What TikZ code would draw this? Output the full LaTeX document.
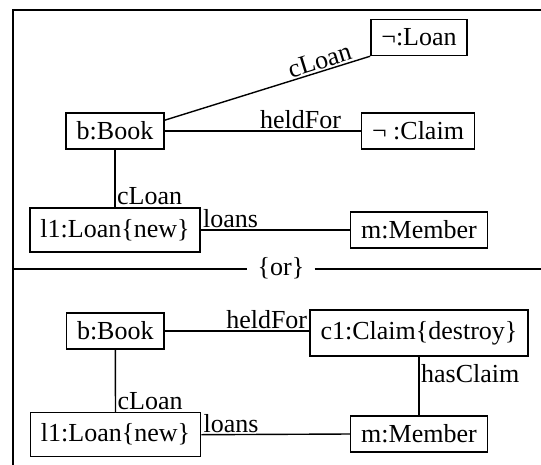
\documentclass[tikz,border=0pt]{standalone}
\usepackage{fontspec}
\setmainfont{Liberation Serif}
\begin{document}
\begin{tikzpicture}[x=1pt,y=-1pt,
  every node/.style={font=\fontsize{26}{30}\selectfont},
  obj/.style={draw, line width=1.5pt, inner xsep=10.5pt, inner ysep=0pt, minimum height=36pt},
  objb/.style={obj, minimum height=44pt},
  conn/.style={line width=1.4pt},
  lbl/.style={inner sep=1.5pt},
  frame/.style={line width=2pt}]
\clip (0,0) rectangle (541,464);

% enclosing frame (right and bottom sides fall outside the page)
\coordinate (tl) at (13,9.5);
\coordinate (tr) at (560,9.5);
\coordinate (bl) at (13,480);
\draw[frame] (tr) -- (tl) -- (bl);

% ---- first alternative ----
\node[obj] (negLoan) at (419,37.5) {¬:Loan};
\node[obj] (bookA) at (115,131) {b:Book};
\node[obj] (negClaim) at (418,131) {¬ :Claim};
\node[objb] (loanA) at (115,230) {l1:Loan\{new\}};
\node[obj] (memberA) at (419,230) {m:Member};

\draw[conn] ([yshift=-8pt]bookA.north east) -- (negLoan.south west)
  node[lbl, pos=0.77, sloped, anchor=south] {cLoan};
\draw[conn] (bookA.east) -- (negClaim.west)
  node[lbl, pos=0.91, anchor=south east] {heldFor};
\draw[conn] (bookA.south) -- (loanA.north)
  node[lbl, pos=1, anchor=south west] {cLoan};
\draw[conn] (loanA.east) -- (memberA.west)
  node[lbl, pos=0, anchor=south west] {loans};

% ---- separator ----
\node[inner xsep=10pt, inner ysep=0pt] (orsep) at (281,268.5) {\{or\}};
\coordinate (sepL) at (13,268.5);
\coordinate (sepR) at (560,268.5);
\draw[frame] (sepL) -- (orsep.west);
\draw[frame] (orsep.east) -- (sepR);

% ---- second alternative ----
\node[obj] (bookB) at (115.3,331) {b:Book};
\node[objb, minimum height=46pt] (claimB) at (419,333) {c1:Claim\{destroy\}};
\node[objb] (loanB) at (115.5,434.7) {l1:Loan\{new\}};
\node[obj] (memberB) at (419,434) {m:Member};

\draw[conn] (bookB.east) -- (bookB.east -| claimB.west)
  node[lbl, pos=1, anchor=south east] {heldFor};
\draw[conn] (claimB.south) -- (memberB.north)
  node[lbl, pos=0.1, anchor=north west] {hasClaim};
\draw[conn] (bookB.south) -- (loanB.north)
  node[lbl, pos=1, anchor=south west] {cLoan};
\draw[conn] (loanB.east) -- (memberB.west)
  node[lbl, pos=0, anchor=south west] {loans};
\end{tikzpicture}
\end{document}
